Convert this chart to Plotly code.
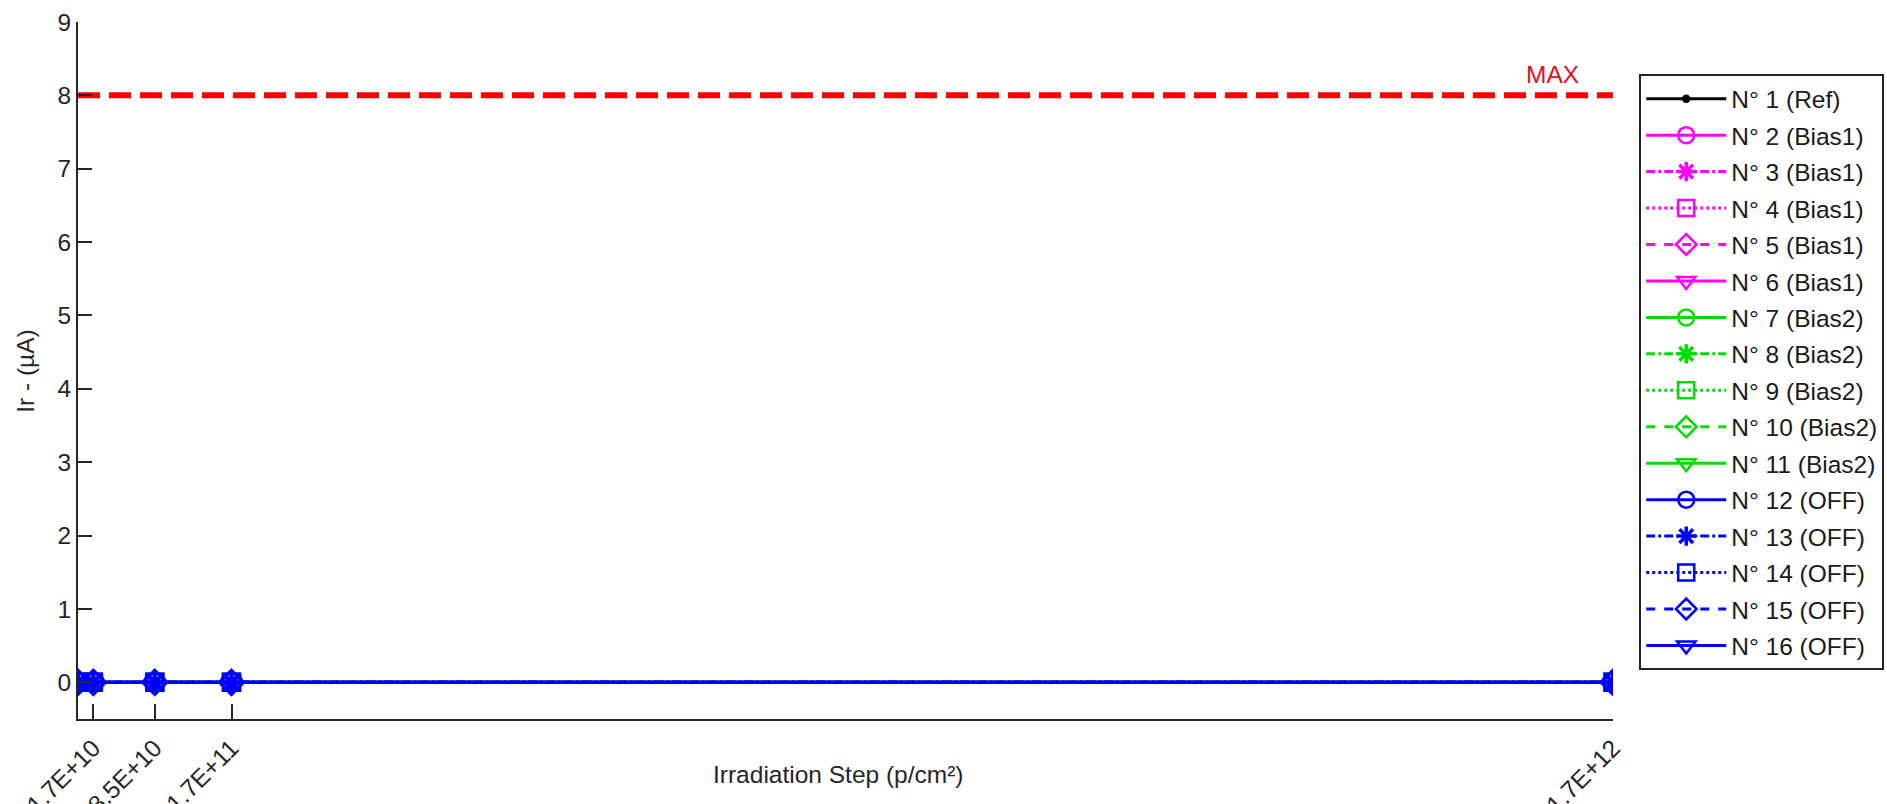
import plotly.graph_objects as go

# Irradiation steps (p/cm²) and the tick labels shown under them
steps = [0, 1.7e10, 8.5e10, 1.7e11, 1.7e12]
tick_steps = [1.7e10, 8.5e10, 1.7e11, 1.7e12]
tick_labels = ["1.7E+10", "8.5E+10", "1.7E+11", "1.7E+12"]
y_ticks = [0, 1, 2, 3, 4, 5, 6, 7, 8, 9]

# Reverse current Ir (µA) per device at each step
ir_n1 = [0, 0, 0, 0, 0]
ir_n2 = [0, 0, 0, 0, 0]
ir_n3 = [0, 0, 0, 0, 0]
ir_n4 = [0, 0, 0, 0, 0]
ir_n5 = [0, 0, 0, 0, 0]
ir_n6 = [0, 0, 0, 0, 0]
ir_n7 = [0, 0, 0, 0, 0]
ir_n8 = [0, 0, 0, 0, 0]
ir_n9 = [0, 0, 0, 0, 0]
ir_n10 = [0, 0, 0, 0, 0]
ir_n11 = [0, 0, 0, 0, 0]
ir_n12 = [0, 0, 0, 0, 0]
ir_n13 = [0, 0, 0, 0, 0]
ir_n14 = [0, 0, 0, 0, 0]
ir_n15 = [0, 0, 0, 0, 0]
ir_n16 = [0, 0, 0, 0, 0]

device_names = [
    "N° 1 (Ref)", "N° 2 (Bias1)", "N° 3 (Bias1)", "N° 4 (Bias1)", "N° 5 (Bias1)",
    "N° 6 (Bias1)", "N° 7 (Bias2)", "N° 8 (Bias2)", "N° 9 (Bias2)", "N° 10 (Bias2)",
    "N° 11 (Bias2)", "N° 12 (OFF)", "N° 13 (OFF)", "N° 14 (OFF)", "N° 15 (OFF)",
    "N° 16 (OFF)",
]
device_values = [ir_n1, ir_n2, ir_n3, ir_n4, ir_n5, ir_n6, ir_n7, ir_n8,
                 ir_n9, ir_n10, ir_n11, ir_n12, ir_n13, ir_n14, ir_n15, ir_n16]

MAX_LIMIT = 8

BLACK = "#000000"
MAGENTA = "#ff00ff"
GREEN = "#00dd00"
BLUE = "#0000ff"

# (colour, dash, marker symbol, marker size) for each device
styles = [
    (BLACK, "solid", "circle", 6),
    (MAGENTA, "solid", "circle-open", 17),
    (MAGENTA, "dashdot", "asterisk-open", 18),
    (MAGENTA, "dot", "square-open", 17),
    (MAGENTA, "dash", "diamond-open", 19),
    (MAGENTA, "solid", "triangle-down-open", 17),
    (GREEN, "solid", "circle-open", 17),
    (GREEN, "dashdot", "asterisk-open", 18),
    (GREEN, "dot", "square-open", 17),
    (GREEN, "dash", "diamond-open", 19),
    (GREEN, "solid", "triangle-down-open", 17),
    (BLUE, "solid", "circle-open", 17),
    (BLUE, "dashdot", "asterisk-open", 18),
    (BLUE, "dot", "square-open", 17),
    (BLUE, "dash", "diamond-open", 19),
    (BLUE, "solid", "triangle-down-open", 17),
]

FONT = "Liberation Sans, Arial, sans-serif"
FS = 24.5
AXIS_COLOR = "#262626"

fig = go.Figure()

# Limit line
fig.add_trace(go.Scatter(
    x=[steps[0], steps[-1]], y=[MAX_LIMIT, MAX_LIMIT],
    mode="lines", line=dict(color="#ff0000", width=6, dash="22px,9px"),
    showlegend=False, hoverinfo="skip",
))

for i, (name, vals, (col, dash, sym, size)) in enumerate(zip(device_names, device_values, styles)):
    mw = 3.5 if sym.startswith("asterisk") else 2.5
    fig.add_trace(go.Scatter(
        x=steps, y=vals, name=name, legendgroup=f"g{i}",
        mode="lines+markers",
        line=dict(color=col, width=3, dash=dash),
        marker=dict(symbol=sym, size=size, color=col,
                    line=dict(color=col, width=mw)),
    ))

fig.add_annotation(
    x=1.633e12, y=MAX_LIMIT, xref="x", yref="y", text="MAX",
    showarrow=False, yanchor="bottom", yshift=5,
    font=dict(family=FONT, size=FS, color="#e0101a"),
)

# Axis titles
fig.add_annotation(
    x=0.4953, y=-0.0803, xref="paper", yref="paper",
    text="Irradiation Step (p/cm²)", showarrow=False,
    xanchor="center", yanchor="middle",
    font=dict(family=FONT, size=FS, color=AXIS_COLOR),
)
fig.add_annotation(
    x=-0.0343, y=0.5, xref="paper", yref="paper",
    text="Ir - (µA)", showarrow=False, textangle=-90,
    xanchor="center", yanchor="middle",
    font=dict(family=FONT, size=FS, color=AXIS_COLOR),
)

fig.update_xaxes(
    range=[steps[0], steps[-1]],
    tickvals=tick_steps, ticktext=tick_labels, tickangle=-45,
    showline=True, linecolor=AXIS_COLOR, linewidth=2,
    ticks="inside", ticklen=15, tickwidth=2, tickcolor=AXIS_COLOR,
    showgrid=False, zeroline=False, mirror=False,
    tickfont=dict(family=FONT, size=FS, color=AXIS_COLOR),
    ticklabelstandoff=3,
)
fig.update_yaxes(
    range=[-0.5, 9],
    tickvals=y_ticks,
    showline=True, linecolor=AXIS_COLOR, linewidth=2,
    ticks="inside", ticklen=14, tickwidth=2, tickcolor=AXIS_COLOR,
    showgrid=False, zeroline=False, mirror=False,
    tickfont=dict(family=FONT, size=FS, color=AXIS_COLOR),
    ticklabelstandoff=0,
)

fig.update_layout(
    width=1887, height=804,
    margin=dict(l=78, r=274, t=22, b=85, autoexpand=False),
    paper_bgcolor="white", plot_bgcolor="white",
    showlegend=True,
    legend=dict(
        x=1.0171, y=0.925, xanchor="left", yanchor="top",
        traceorder="grouped", tracegroupgap=1.6,
        bordercolor="#222222", borderwidth=2, bgcolor="white",
        font=dict(family=FONT, size=FS, color="#1a1a1a"),
        itemwidth=80,
    ),
)

fig.write_html("out.html")
